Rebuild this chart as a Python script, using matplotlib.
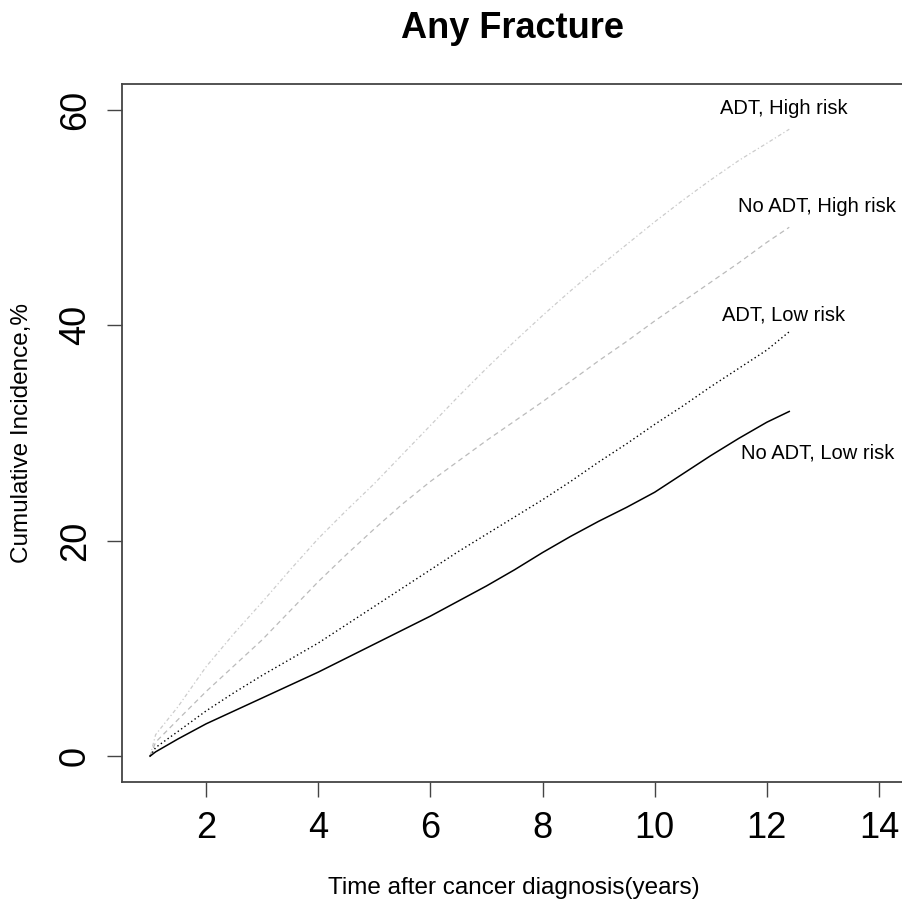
import numpy as np
import matplotlib
matplotlib.use("Agg")
import matplotlib.pyplot as plt

plt.rcParams['font.family'] = ['Liberation Sans', 'DejaVu Sans']

# years since diagnosis
years = [1.0, 1.1, 1.5, 2.0, 2.5, 3.0, 3.5, 4.0, 4.5, 5.0, 5.5, 6.0, 6.5,
         7.0, 7.5, 8.0, 8.5, 9.0, 9.5, 10.0, 10.5, 11.0, 11.5, 12.0, 12.4]

# cumulative incidence, %
adt_high = [0, 2.0, 4.6, 8.3, 11.4, 14.3, 17.3, 20.2, 22.8, 25.3, 28.0, 30.7, 33.4,
            36.0, 38.5, 40.9, 43.2, 45.4, 47.5, 49.6, 51.6, 53.5, 55.3, 56.9, 58.2]
noadt_high = [0, 1.3, 3.4, 6.0, 8.4, 10.8, 13.5, 16.2, 18.7, 21.1, 23.4, 25.5, 27.4,
              29.3, 31.1, 32.9, 34.8, 36.7, 38.5, 40.4, 42.2, 44.0, 45.8, 47.7, 49.1]
adt_low = [0, 0.8, 2.3, 4.2, 5.9, 7.5, 9.0, 10.5, 12.2, 13.9, 15.6, 17.3, 19.0,
           20.6, 22.2, 23.8, 25.5, 27.3, 29.0, 30.8, 32.5, 34.3, 36.0, 37.7, 39.4]
noadt_low = [0, 0.4, 1.6, 3.0, 4.2, 5.4, 6.6, 7.8, 9.1, 10.4, 11.7, 13.0, 14.4,
             15.8, 17.3, 18.9, 20.4, 21.8, 23.1, 24.5, 26.2, 27.9, 29.5, 31.0, 32.0]

labels = ["ADT, High risk", "No ADT, High risk", "ADT, Low risk", "No ADT, Low risk"]
label_x = [12.3, 12.9, 12.3, 12.9]
label_y = [60.1, 51.0, 41.0, 28.1]

fig = plt.figure(figsize=(9.03, 9.08), dpi=100)
ax = fig.add_axes([122/903, 1 - 782/908, (907 - 122)/903, (782 - 84)/908])

ax.plot(years, adt_high, color='#cccccc', lw=0.9, ls=(0, (3, 2, 1, 2)))
ax.plot(years, noadt_high, color='#bbbbbb', lw=0.9, ls=(0, (4, 3)))
ax.plot(years, adt_low, color='black', lw=1.0, ls=(0, (1, 2)))
ax.plot(years, noadt_low, color='black', lw=1.1, ls='-')

for t, x, y in zip(labels, label_x, label_y):
    ax.text(x, y, t, fontsize=14.5, ha='center', va='center')

ax.set_xlim(0.5, 14.5)
ax.set_ylim(-2.4, 62.4)
ax.set_xticks([2, 4, 6, 8, 10, 12, 14])
ax.set_yticks([0, 20, 40, 60])
ax.set_yticklabels(['0', '20', '40', '60'], rotation=90, va='center')
ax.tick_params(axis='both', direction='out', length=11, width=1.0,
               color='#444444', labelsize=26, pad=10)
ax.tick_params(axis='y', pad=10)

for s in ax.spines.values():
    s.set_color('#444444')
    s.set_linewidth(1.3)

fig.text(514/903, 1 - 888/908, 'Time after cancer diagnosis(years)',
         fontsize=17.5, ha='center', va='center')
fig.text(22/903, 1 - 433/908, 'Cumulative Incidence,%', fontsize=17.5,
         rotation=90, ha='center', va='center')
fig.text(513/903, 1 - 28/908, 'Any Fracture', fontsize=26, fontweight='bold',
         ha='center', va='center')

fig.savefig('out.png', dpi=100)
